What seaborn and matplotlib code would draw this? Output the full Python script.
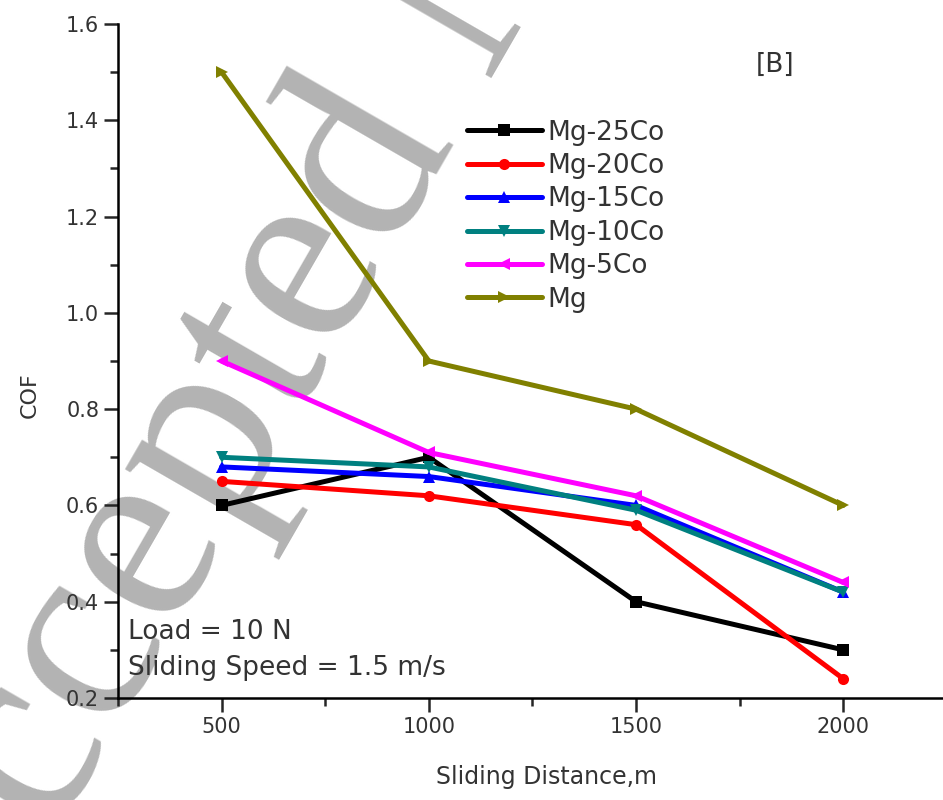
import numpy as np
import pandas as pd
import matplotlib
matplotlib.use("Agg")
import matplotlib.pyplot as plt
import seaborn as sns
from matplotlib.lines import Line2D
from matplotlib.ticker import MultipleLocator

# data
distance = [500, 1000, 1500, 2000]
alloys = ["Mg-25Co", "Mg-20Co", "Mg-15Co", "Mg-10Co", "Mg-5Co", "Mg"]
cof_25co = [0.60, 0.70, 0.40, 0.30]
cof_20co = [0.65, 0.62, 0.56, 0.24]
cof_15co = [0.68, 0.66, 0.60, 0.42]
cof_10co = [0.70, 0.68, 0.59, 0.42]
cof_5co = [0.90, 0.71, 0.62, 0.44]
cof_mg = [1.50, 0.90, 0.80, 0.60]

colors = ["black", "red", "blue", "teal", "magenta", "olive"]
markers = ["s", "o", "^", "v", "<", ">"]

series = [cof_25co, cof_20co, cof_15co, cof_10co, cof_5co, cof_mg]
df = pd.DataFrame({
    "distance": distance * len(alloys),
    "cof": sum(series, []),
    "alloy": np.repeat(alloys, len(distance)),
})

sns.set_style("ticks")
plt.rcParams["font.family"] = ["DejaVu Sans"]

fig = plt.figure(figsize=(9.43, 8), dpi=100)
ax = fig.add_axes([0.1251, 0.1275, 0.879, 0.8425])
ax.patch.set_alpha(0)

# watermark behind everything
fig.text(0.497, 1.01, "Accepted Manuscript", rotation=60, rotation_mode="anchor",
         ha="center", va="center", fontsize=190, family="Liberation Serif",
         color="#b3b3b3", zorder=-5)

sns.lineplot(data=df, x="distance", y="cof", hue="alloy", style="alloy",
             palette=dict(zip(alloys, colors)), markers=dict(zip(alloys, markers)),
             dashes=False, linewidth=3.6, markersize=8, markeredgewidth=0,
             legend=False, ax=ax)

ax.set_xlim(250, 2250)
ax.set_ylim(0.2, 1.6)
ax.set_xticks([500, 1000, 1500, 2000])
ax.set_yticks([0.2, 0.4, 0.6, 0.8, 1.0, 1.2, 1.4, 1.6])
ax.xaxis.set_minor_locator(MultipleLocator(250))
ax.yaxis.set_minor_locator(MultipleLocator(0.1))
ax.tick_params(which="major", direction="out", length=10, width=1.8,
               labelsize=15, labelcolor="#333333")
ax.tick_params(which="minor", direction="out", length=6, width=1.8)
sns.despine(ax=ax)
for s in ["left", "bottom"]:
    ax.spines[s].set_linewidth(1.8)
    ax.spines[s].set_color("black")

ax.set_xlabel("Sliding Distance,m", fontsize=17, color="#333333")
ax.set_ylabel("COF", fontsize=16, color="#333333")
ax.xaxis.set_label_coords(0.517, -0.1)
ax.yaxis.set_label_coords(-0.094, 0.45)

handles = [Line2D([], [], color=c, marker=m, lw=3.6, ms=8, mew=0)
           for c, m in zip(colors, markers)]
leg = ax.legend(handles, alloys, loc="upper left", bbox_to_anchor=(0.421, 0.858),
                frameon=False, fontsize=19, borderpad=0, borderaxespad=0,
                labelspacing=0.28, handlelength=2.84, handletextpad=0.2,
                numpoints=1)
for t in leg.get_texts():
    t.set_color("#333333")

ax.text(0.7925, 0.939, "[B]", transform=ax.transAxes, fontsize=19,
        color="#333333", ha="center", va="center")
ax.text(0.012, 0.098, "Load = 10 N", transform=ax.transAxes, fontsize=19,
        color="#333333", ha="left", va="center")
ax.text(0.012, 0.0445, "Sliding Speed = 1.5 m/s", transform=ax.transAxes,
        fontsize=19, color="#333333", ha="left", va="center")

fig.savefig("out.png", dpi=100)
